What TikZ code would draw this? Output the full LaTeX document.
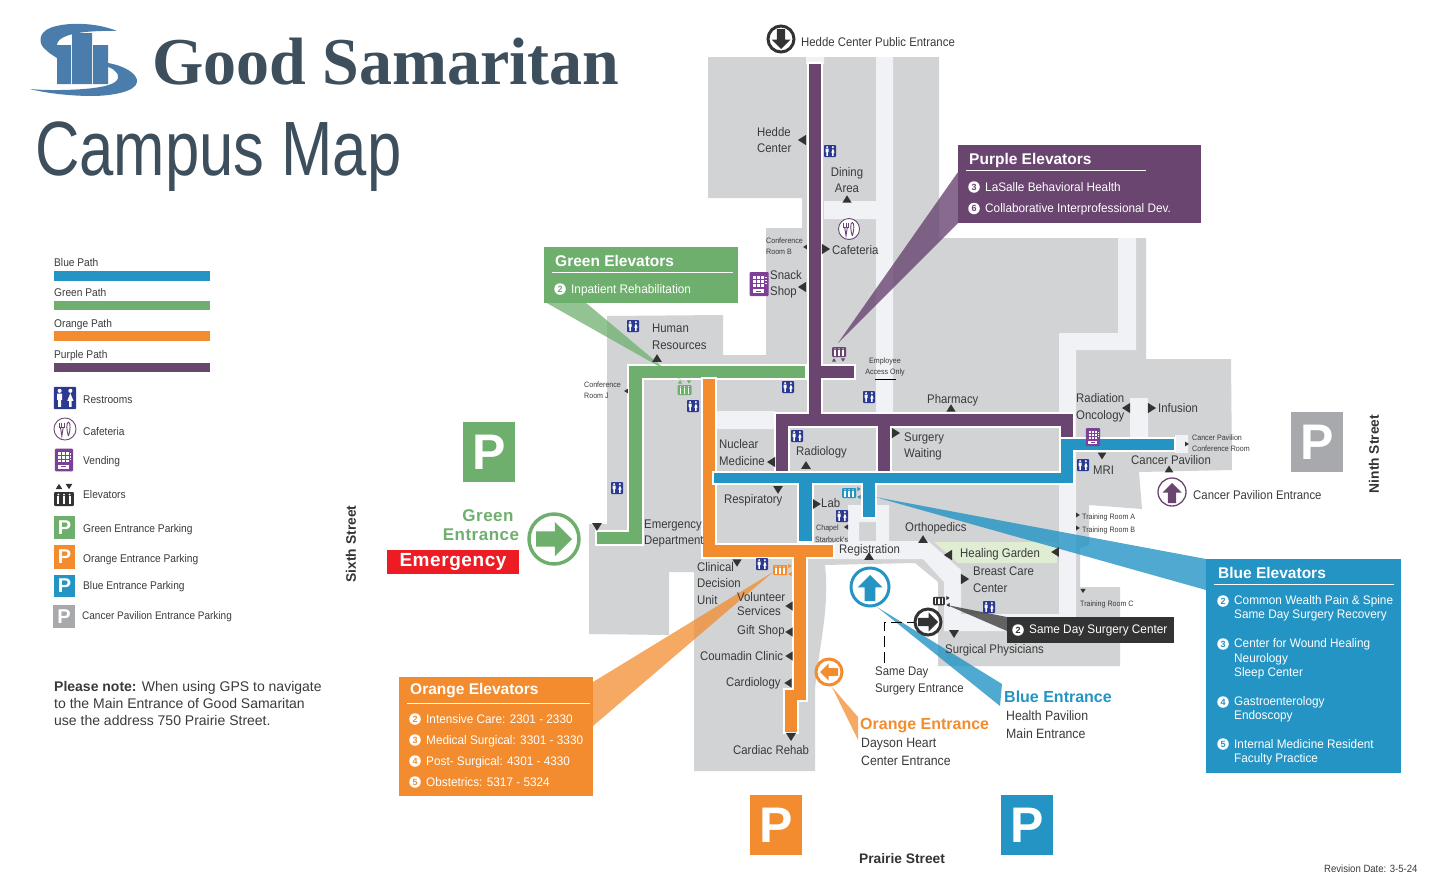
\documentclass[tikz,border=0pt]{standalone}
\usepackage{fontspec}
\setmainfont{Liberation Sans}
\newfontfamily\mapfont[FakeStretch=0.91]{Liberation Sans}
\newfontfamily\boxfont[FakeStretch=0.95]{Liberation Sans}
\newfontfamily\campusf[FakeStretch=0.80]{Liberation Sans}
\newfontfamily\titlef[FakeStretch=0.985]{Liberation Serif}
\definecolor{gbase}{HTML}{D1D3D4}
\definecolor{lite}{HTML}{F1F2F6}
\definecolor{pblue}{HTML}{2394C4}
\definecolor{pgreen}{HTML}{6FAF6E}
\definecolor{porange}{HTML}{F28C2E}
\definecolor{ppurple}{HTML}{694570}
\definecolor{vend}{HTML}{7D3F98}
\definecolor{rest}{HTML}{2B3990}
\definecolor{dk}{HTML}{333333}
\definecolor{txt}{HTML}{3A3A3A}
\definecolor{slate}{HTML}{3D4F5C}
\definecolor{logob}{HTML}{4A7DAB}
\definecolor{pgrey}{HTML}{A7A9AC}
\definecolor{garden}{HTML}{DFEDD3}
\definecolor{emred}{HTML}{ED1C24}
\tikzset{
  lbl/.style={anchor=west,inner sep=0pt,align=left,text=txt},
  clbl/.style={anchor=center,inner sep=0pt,align=center,text=txt},
  wlbl/.style={anchor=west,inner sep=0pt,align=left,text=white},
  route/.style={draw=white,line width=1.2pt},
  lightarea/.style={fill=lite},
}
\newcounter{lb}
\newcommand\T[5][16.5]{\stepcounter{lb}\node[lbl,font=\mapfont\fontsize{#4}{#1}\selectfont] (lb\arabic{lb}) at (#2,{#3+1}) {\strut #5\strut};}
\newcommand\W[5][15]{\stepcounter{lb}\node[wlbl,font=\boxfont\fontsize{#4}{#1}\selectfont] (lb\arabic{lb}) at (#2,{#3+1}) {\strut #5\strut};}
\newcommand\C[5][16.5]{\stepcounter{lb}\node[clbl,font=\mapfont\fontsize{#4}{#1}\selectfont] (lb\arabic{lb}) at (#2,{#3+1}) {\strut #5\strut};}
\newcommand\tri[5][dk]{\fill[#1,shift={(#2,#3)},rotate=#4,scale=#5] (1.15,0) -- (-1.15,1.45) -- (-1.15,-1.45) -- cycle;}
\newcommand\rrm[3]{\begin{scope}[shift={(#1,#2)},scale=#3]
  \fill[rest,rounded corners=.8pt] (-6,-6) rectangle (6,6);
  \fill[white] (-2.9,-3.9) circle (1.1) (2.9,-3.9) circle (1.1);
  \fill[white] (-4.3,-2.4) rectangle (-1.5,1) (-3.7,1) rectangle (-2.1,4.8);
  \fill[white] (2.9,-2.6) -- (4.6,1.6) -- (1.2,1.6) -- cycle (2.2,1.6) rectangle (3.6,4.8);
\end{scope}}
\newcommand\elev[4]{\begin{scope}[shift={(#1,#2)},scale=#3]
  \fill[#4,rounded corners=1pt] (-7,-5) rectangle (7,5);
  \foreach \q in {-4,0,4}{\fill[white] (\q,-3.2) circle (.7); \fill[white] (\q-.7,-2.2) rectangle (\q+.7,3.6);}
\end{scope}}
\newcommand\vendm[3]{\begin{scope}[shift={(#1,#2)},scale=#3]
  \fill[vend,rounded corners=1pt] (-9.5,-12) rectangle (9.5,12);
  \foreach \a in {-6,-2,2}{\foreach \b in {-8.5,-4.5,-.5}{\fill[white] (\a,\b) rectangle (\a+3,\b+3);}}
  \fill[white] (-6.5,5) rectangle (5,9);
  \fill[vend] (-3,6.5) rectangle (2,7.5);
  \foreach \b in {-7,-4,-1}{\fill[white] (6.2,\b) rectangle (7.6,\b+1.4);}
\end{scope}}
\newcommand\cafe[3]{\begin{scope}[shift={(#1,#2)},scale=#3]
  \draw[ppurple,line width=.9pt,fill=white] (0,0) circle (10.5);
  \draw[ppurple,line width=.8pt] (-5.3,-6) -- (-5.3,-1.5) -- (-.8,-1.5) -- (-.8,-6) (-3,-6) -- (-3,-1.5);
  \draw[ppurple,line width=.9pt] (-4.3,-1.5) -- (-3,6.8) -- (-1.7,-1.5);
  \draw[ppurple,line width=.9pt] (3.3,6.8) .. controls (1.5,2) and (1,-6.5) .. (3.3,-6.5) .. controls (5.6,-6.5) and (5.1,2) .. (3.3,6.8);
\end{scope}}
\newcommand\park[6]{\stepcounter{lb}\fill[#5] (#1,#2) rectangle (#3,#4);
  \node[inner sep=0pt,text=white,font=\bfseries\fontsize{#6}{#6}\selectfont] (lb\arabic{lb}) at ({(#1+#3)/2},{(#2+#4)/2}) {P};}
\newcommand\bigarr[5]{\fill[#5,shift={(#1,#2)},rotate=#3,scale=#4] (-1,-.42) -- (.05,-.42) -- (.05,-.95) -- (1,0) -- (.05,.95) -- (.05,.42) -- (-1,.42) -- cycle;}
\newcommand\badge[4]{\stepcounter{lb}\node[circle,fill=white,inner sep=0pt,minimum size=11.5pt,text=#4,font=\bfseries\fontsize{9}{9}\selectfont] (lb\arabic{lb}) at (#1,#2) {#3};}
\begin{document}
\begin{tikzpicture}[x=1pt,y=-1pt]
\useasboundingbox (0,0) rectangle (1447,889);
% logo
\fill[logob] (117,31) .. controls (95,22) and (65,22) .. (50,28) .. controls (38,33) and (38,44) .. (46,50) .. controls (50,54) and (54,56) .. (57,58) -- (57,45) .. controls (57,38) and (70,30) .. (117,31) -- cycle;
\fill[logob] (108,63) .. controls (125,66) and (138,74) .. (137,82) .. controls (136,92) and (110,96) .. (92,96) .. controls (70,96) and (45,93) .. (30,89) .. controls (50,91) and (85,90) .. (100,87) .. controls (112,85) and (120,81) .. (118,75) .. controls (116,71) and (112,68) .. (108,67) -- cycle;
\fill[logob] (57,45) rectangle (71,84) (72,33) rectangle (92,84) (93,45) rectangle (108,84);
\node[anchor=base west,inner sep=0pt,text=slate,font=\titlef\bfseries\fontsize{67}{70}\selectfont] (brand) at (152,84) {Good Samaritan};
\node[anchor=base west,inner sep=0pt,text=slate,font=\campusf\fontsize{77}{80}\selectfont] (title) at (35,175) {Campus Map};
% building
\fill[gbase] (708,57) -- (939,57) -- (939,238) -- (1146,238) -- (1146,359) -- (1231,359) -- (1232,470) -- (1139,472) -- (1142,509) -- (1089,505) -- (1089,545) -- (1080,548) -- (1080,587) -- (1120,587) -- (1120,666) -- (938,666) -- (938,582) -- (915,563) -- (825,565) .. controls (830,610) and (818,650) .. (815,690) -- (815,771) -- (694,771) -- (694,572) -- (669,572) -- (669,635) -- (589,634) -- (589,524) -- (607,524) -- (607,316) -- (723,315) -- (723,355) -- (766,355) -- (766,228) -- (802,228) -- (802,198) -- (708,198) -- cycle;
% corridors
\fill[lightarea] (806,57) rectangle (824,64) (876,57) rectangle (893,412) (824,201) rectangle (876,219) (717,411) rectangle (775,429);
\fill[lightarea] (1118,238) -- (1136,238) -- (1136,350) -- (1076,350) -- (1076,631) -- (1059,631) -- (1059,333) -- (1118,333) -- cycle;
\fill[lightarea] (1130,398) rectangle (1148,438) (1175,435) rectangle (1188,453);
\fill[lightarea] (848,505) rectangle (889,522) (848,522) rectangle (859,542) (876,522) rectangle (889,542);
\fill[lightarea] (834,541) -- (928,541) -- (961,570) -- (961,614) -- (1060,614) -- (1060,631) -- (944,631) -- (944,582) -- (923,559) -- (834,559) -- cycle;
\fill[garden] (934,542) -- (1057,542) -- (1057,563) -- (958,563) -- cycle;
% routes
\fill[pgreen,route] (628,365) -- (806,365) -- (806,379) -- (643,379) -- (643,545) -- (596,545) -- (596,531) -- (628,531) -- cycle;
\fill[porange,route] (702,378) -- (716,378) -- (716,544) -- (834,544) -- (834,558) -- (807,558) -- (807,701) -- (798,701) -- (798,733) -- (784,733) -- (784,689) -- (793,689) -- (793,558) -- (702,558) -- cycle;
\fill[ppurple,route] (808,63) -- (822,63) -- (822,365) -- (855,365) -- (855,379) -- (822,379) -- (822,413) -- (1074,413) -- (1074,438) -- (1060,438) -- (1060,427) -- (891,427) -- (891,472) -- (877,472) -- (877,427) -- (789,427) -- (789,472) -- (775,472) -- (775,413) -- (808,413) -- cycle;
\fill[pblue,route] (713,472) -- (1060,472) -- (1060,438) -- (1175,438) -- (1175,451) -- (1074,451) -- (1074,484) -- (876,484) -- (876,518) -- (862,518) -- (862,484) -- (813,484) -- (813,542) -- (798,542) -- (798,484) -- (713,484) -- cycle;
% callout wedges
\fill[ppurple,fill opacity=.8] (958,172) -- (958,223) -- (838,343) -- cycle;
\fill[pgreen,fill opacity=.75] (545,302) -- (585,302) -- (660,365) -- (684,382) -- (660,367) -- cycle;
\fill[porange,fill opacity=.75] (593,682) -- (593,726) -- (773,572) -- cycle;
\fill[pblue,fill opacity=.8] (1206,559) -- (1206,590) -- (875,497) -- cycle;
\fill[pblue,fill opacity=.8] (1002,684) -- (1000,706) -- (877,607) -- cycle;
\fill[porange,fill opacity=.75] (858,717) -- (858,740) -- (832,687) -- cycle;
\fill[dk,fill opacity=.75] (1007,617) -- (1007,631) -- (947,605) -- cycle;
% dashed surgery entrance
\draw[black,line width=1pt,dash pattern=on 11pt off 5pt] (884,663) -- (884,622) -- (914,622);
% boxes
\fill[ppurple] (958,145) rectangle (1201,223);
\fill[pgreen] (544,247) rectangle (738,303);
\fill[porange] (399,677) rectangle (593,796);
\fill[pblue] (1206,559) rectangle (1401,773);
\fill[dk] (1007,617) rectangle (1174,643);
\draw[white,line width=.9pt] (966,170) -- (1146,170) (552,272) -- (733,272) (407,703) -- (590,703) (1214,584) -- (1394,584);
\node[wlbl,font=\bfseries\fontsize{15.5}{18}\selectfont] (ttlp) at (969,160) {Purple Elevators};
\node[wlbl,font=\bfseries\fontsize{15.5}{18}\selectfont] (ttlg) at (555,261) {Green Elevators};
\node[wlbl,font=\bfseries\fontsize{15.5}{18}\selectfont] (ttlo) at (410,691) {Orange Elevators};
\node[wlbl,font=\bfseries\fontsize{15.5}{18}\selectfont] (ttlb) at (1218,573) {Blue Elevators};
\badge{974}{187}{3}{ppurple} \W{985}{187}{12.4}{LaSalle Behavioral Health}
\badge{974}{208.5}{6}{ppurple} \W{985}{208.5}{12.4}{Collaborative Interprofessional Dev.}
\badge{560}{289}{2}{pgreen} \W{571}{289}{12.4}{Inpatient Rehabilitation}
\badge{415}{719}{2}{porange} \W{426}{719}{12.4}{Intensive Care: 2301 - 2330}
\badge{415}{740}{3}{porange} \W{426}{740}{12.4}{Medical Surgical: 3301 - 3330}
\badge{415}{761}{4}{porange} \W{426}{761}{12.4}{Post- Surgical: 4301 - 4330}
\badge{415}{782}{5}{porange} \W{426}{782}{12.4}{Obstetrics: 5317 - 5324}
\badge{1223}{601}{2}{pblue} \W[14.3]{1234}{607.5}{12.4}{Common Wealth Pain \& Spine\\Same Day Surgery Recovery}
\badge{1223}{644}{3}{pblue} \W[14.5]{1234}{658.5}{12.4}{Center for Wound Healing\\Neurology\\Sleep Center}
\badge{1223}{702}{4}{pblue} \W[14.3]{1234}{708.5}{12.4}{Gastroenterology\\Endoscopy}
\badge{1223}{744}{5}{pblue} \W[14.3]{1234}{751.5}{12.4}{Internal Medicine Resident\\Faculty Practice}
\badge{1018}{630}{2}{dk} \W{1029}{629.5}{12.4}{Same Day Surgery Center}
% parking and emergency
\park{463}{422}{515}{482}{pgreen}{50}
\park{1291}{412}{1343}{472}{pgrey}{50}
\park{750}{795}{802}{855}{porange}{50}
\park{1001}{795}{1053}{855}{pblue}{50}
\fill[emred] (387,550) rectangle (519,574);
\node[inner sep=0pt,text=white,font=\bfseries\fontsize{19}{20}\selectfont\addfontfeature{LetterSpace=3}] (emerg) at (453,562) {Emergency};
\node[anchor=center,inner sep=0pt,align=center,text=pgreen,font=\bfseries\fontsize{17}{19}\selectfont\addfontfeature{LetterSpace=3}] (gent) at (481,525.5) {\hspace*{14pt}Green\\Entrance};
% entrance rings
\draw[pgreen,line width=3.5pt,fill=white] (554,539) circle (25);
\bigarr{554}{539}{0}{18}{pgreen}
\draw[pblue,line width=3pt,fill=white] (870,587) circle (19);
\bigarr{870}{588}{90}{13}{pblue}
\draw[porange,line width=3pt,fill=white] (829,672) circle (13);
\bigarr{829}{672}{180}{9}{porange}
\draw[dk,line width=3pt,fill=white] (928,622) circle (13);
\bigarr{928}{622}{0}{10}{dk}
\draw[ppurple,line width=1.3pt,fill=white] (1172,492) circle (14);
\bigarr{1172}{493}{90}{10}{ppurple}
\draw[dk,line width=3pt,fill=white] (781,39) circle (13);
\bigarr{781}{39}{270}{10}{dk}
% pointers
\tri{802}{140}{180}{3.6} \tri{847}{199}{90}{3.2} \tri{826}{249}{0}{3.5} \tri{805}{247}{180}{1.6}
\tri{802}{287}{180}{3.5} \tri{657}{358}{90}{3.3} \tri{626}{391}{180}{1.6}
\tri{771}{462}{180}{3.5} \tri{806}{465}{90}{3.4} \tri{896}{433}{0}{3.5} \tri{778}{490}{270}{3.3}
\tri{817}{504}{0}{3.3} \tri{846}{527}{180}{1.8} \tri{951}{408}{90}{3.2}
\tri{1126}{408}{180}{3.5} \tri{1152}{408}{0}{3.5} \tri{1187}{444}{0}{1.6}
\tri{1102}{456}{270}{3} \tri{1169}{469}{90}{3} \tri{1078}{515}{0}{1.6} \tri{1078}{528}{0}{1.6}
\tri{1083}{591}{270}{1.8} \tri{923}{539}{90}{3.3} \tri{1055}{552}{180}{3.3} \tri{948}{555}{180}{3.6}
\tri{965}{579}{0}{3.6} \tri{954}{634}{270}{3.4} \tri{869}{556}{90}{3.3} \tri{597}{527}{270}{3.3}
\tri{737}{563}{270}{3.2} \tri{789}{606}{180}{3.2} \tri{789}{632}{180}{3.2} \tri{789}{656}{180}{3.2}
\tri{788}{683}{180}{3.2} \tri{791}{737}{270}{3.5}
% restrooms
\rrm{830}{151}{1} \rrm{788}{387}{1} \rrm{869}{397}{1} \rrm{633}{326}{1} \rrm{693}{406}{1} \rrm{617}{488}{1}
\rrm{797}{436}{1} \rrm{842}{516}{1} \rrm{762}{564}{1} \rrm{1083}{465}{1} \rrm{989}{607}{1}
% vending, cafeteria
\vendm{759}{284}{1} \vendm{1093}{437}{.75} \cafe{849}{229}{1}
% elevators
\elev{839}{352}{1}{ppurple} \tri[ppurple]{834}{360}{90}{1.5} \tri[ppurple]{843}{360}{270}{1.5}
\elev{684.5}{390}{1}{pgreen} \tri[pgreen]{680}{382}{90}{1.5} \tri[pgreen]{689}{382}{270}{1.5}
\elev{849}{493}{1}{pblue} \tri[pblue]{859}{489}{0}{1.5} \tri[pblue]{859}{497}{180}{1.5}
\elev{780}{570}{1}{porange} \tri[porange]{790}{566}{0}{1.5} \tri[porange]{790}{574}{180}{1.5}
\elev{939}{601}{.85}{dk} \tri[dk]{948}{598}{0}{1.4} \tri[dk]{948}{605}{180}{1.4}
% map labels
\T{801}{42}{12.5}{Hedde Center Public Entrance}
\T{757}{140}{12.5}{Hedde\\Center}
\C{847}{180}{12.5}{Dining\\Area}
\T{832}{250}{12.5}{Cafeteria}
\T[11]{766}{246}{7.8}{Conference\\Room B}
\T{770}{283}{12.5}{Snack\\Shop}
\T[17]{652}{337}{12.5}{Human\\Resources}
\T[11]{584}{390}{7.8}{Conference\\Room J}
\C[11]{885}{365.5}{7.8}{Employee\\Access Only}
\T{927}{399}{12.5}{Pharmacy}
\T[17]{1076}{407}{12.5}{Radiation\\Oncology}
\T{1158}{408}{12.5}{Infusion}
\T[11]{1192}{442.5}{7.8}{Cancer Pavilion\\Conference Room}
\T{1131}{460}{12.5}{Cancer Pavilion}
\T{1093}{470}{12.5}{MRI}
\T{1193}{495}{12.5}{Cancer Pavilion Entrance}
\T{1082}{515}{7.8}{Training Room A}
\T{1082}{528}{7.8}{Training Room B}
\T{1080}{602}{7.8}{Training Room C}
\T[17]{719}{453}{12.5}{Nuclear\\Medicine}
\T{796}{451}{12.5}{Radiology}
\T{904}{445}{12.5}{Surgery\\Waiting}
\T{724}{499}{12.5}{Respiratory}
\T{821}{503}{12.5}{Lab}
\T{816}{526}{7.8}{Chapel}
\T{815}{538}{7.8}{Starbuck's}
\T{644}{532}{12.5}{Emergency\\Department}
\T{839}{549}{12.5}{Registration}
\T{905}{527}{12.5}{Orthopedics}
\T{960}{553}{12.5}{Healing Garden}
\T[17]{973}{580}{12.5}{Breast Care\\Center}
\T{945}{649}{12.5}{Surgical Physicians}
\T{875}{679.5}{12.5}{Same Day\\Surgery Entrance}
\T{697}{583.5}{12.5}{Clinical\\Decision\\Unit}
\T[12.5]{737}{605}{12.5}{Volunteer\\Services}
\T{737}{630}{12.5}{Gift Shop}
\T{700}{656}{12.5}{Coumadin Clinic}
\T{726}{682}{12.5}{Cardiology}
\T{733}{750}{12.5}{Cardiac Rehab}
\T[18]{861}{752}{13.5}{Dayson Heart\\Center Entrance}
\T[18]{1006}{725}{13.5}{Health Pavilion\\Main Entrance}
\draw[black,line width=.7pt] (875,379) -- (896,379);
\node[anchor=west,inner sep=0pt,text=porange,font=\bfseries\fontsize{16}{18}\selectfont] (oent) at (860,726) {Orange Entrance};
\node[anchor=west,inner sep=0pt,text=pblue,font=\bfseries\fontsize{16}{18}\selectfont] (bent) at (1004,697) {Blue Entrance};
% streets
\node[rotate=90,inner sep=0pt,text=dk,font=\bfseries\fontsize{13.8}{15}\selectfont] (s6) at (351,544) {Sixth Street};
\node[rotate=90,inner sep=0pt,text=dk,font=\bfseries\fontsize{13.8}{15}\selectfont] (s9) at (1374,454) {Ninth Street};
\node[inner sep=0pt,text=dk,font=\bfseries\fontsize{13.8}{15}\selectfont] (s0) at (902,859) {Prairie Street};
\T{1324}{868.5}{10.5}{Revision Date: 3-5-24}
% legend
\T{54}{262.5}{11.2}{Blue Path} \fill[pblue] (54,271) rectangle (210,281);
\T{54}{292.5}{11.2}{Green Path} \fill[pgreen] (54,301) rectangle (210,310);
\T{54}{323.5}{11.2}{Orange Path} \fill[porange] (54,331) rectangle (210,341);
\T{54}{354.5}{11.2}{Purple Path} \fill[ppurple] (54,363) rectangle (210,372);
\rrm{65}{398}{1.85} \T{83}{399.5}{11.2}{Restrooms}
\cafe{65}{429}{1.05} \T{83}{431.5}{11.2}{Cafeteria}
\vendm{64}{460}{.95} \T{83}{460.5}{11.2}{Vending}
\elev{64}{499}{1.4}{dk} \tri{59}{486.5}{90}{2.3} \tri{69}{486.5}{270}{2.3} \T{83}{494.5}{11.2}{Elevators}
\park{54}{516}{75}{539}{pgreen}{20} \T{83}{528.5}{11.2}{Green Entrance Parking}
\park{54}{545}{75}{569}{porange}{20} \T{83}{558.5}{11.2}{Orange Entrance Parking}
\park{54}{575}{75}{597}{pblue}{20} \T{83}{585.5}{11.2}{Blue Entrance Parking}
\park{53}{605}{75}{628}{pgrey}{20} \T{82}{615.5}{11}{Cancer Pavilion Entrance Parking}
\node[anchor=west,inner sep=0pt,align=left,text=txt,font=\fontsize{14}{17}\selectfont] (note) at (54,703) {\textbf{Please note:} When using GPS to navigate\\to the Main Entrance of Good Samaritan\\use the address 750 Prairie Street.};
\end{tikzpicture}
\end{document}
